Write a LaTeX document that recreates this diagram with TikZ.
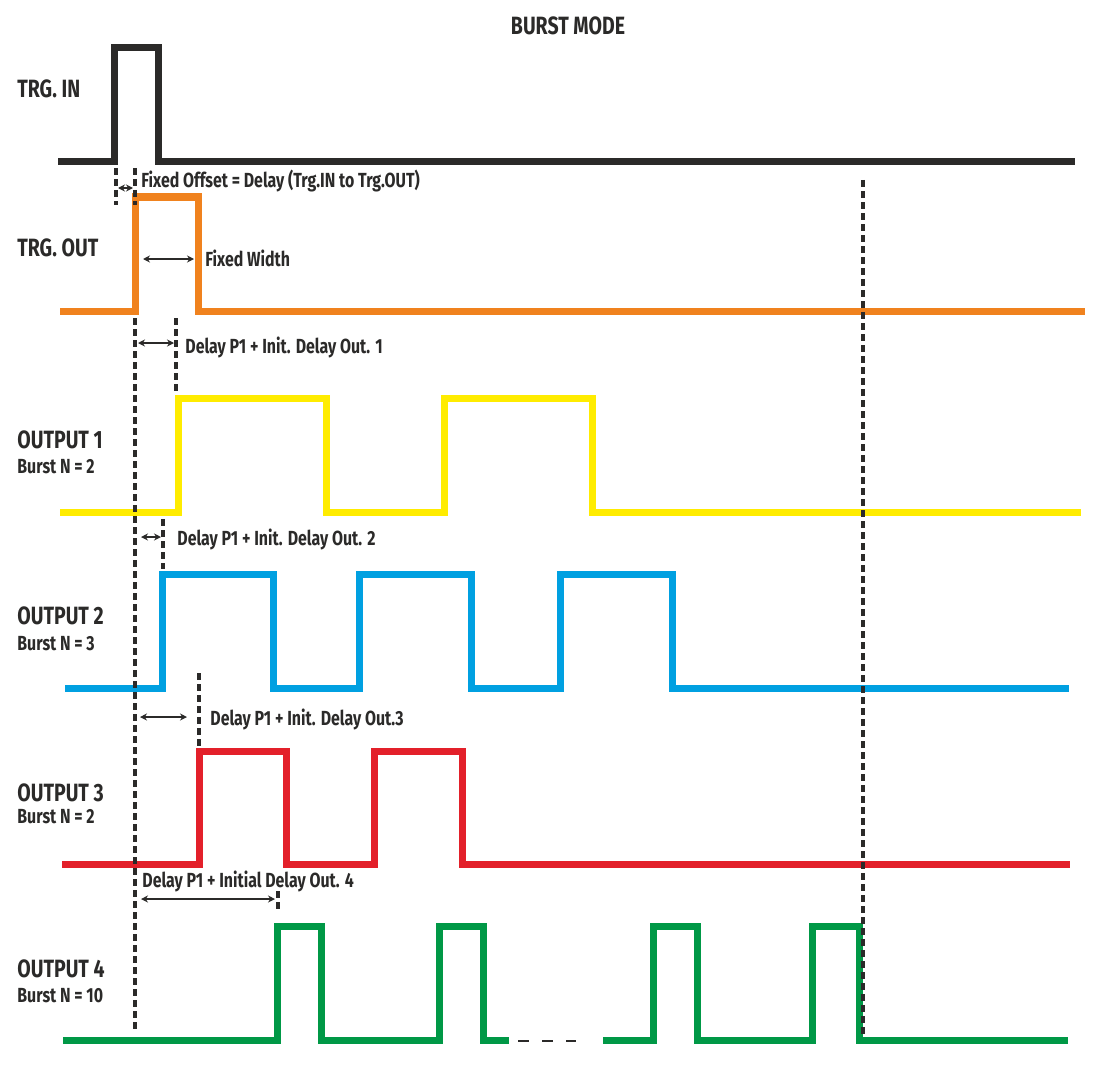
\documentclass[tikz,border=0pt]{standalone}
\usepackage{fontspec}
\setmainfont{Fira Sans}[FakeStretch=0.78]
\usetikzlibrary{arrows.meta, positioning, calc}
\definecolor{sigblack}{HTML}{2B2A29}
\definecolor{sigorange}{HTML}{F0821E}
\definecolor{sigyellow}{HTML}{FFEC00}
\definecolor{sigblue}{HTML}{00A0E1}
\definecolor{sigred}{HTML}{E3202A}
\definecolor{siggreen}{HTML}{009846}

\begin{document}
\begin{tikzpicture}[x=0.5pt, y=-0.5pt,
    signal/.style={line width=3.5pt, line join=miter},
    guide/.style={sigblack, line width=1.8pt, dash pattern=on 3.5pt off 2pt},
    span/.style={sigblack, line width=0.75pt, {Stealth[length=3.5pt,width=3.5pt]}-{Stealth[length=3.5pt,width=3.5pt]}},
    heading/.style={font=\bfseries\fontsize{12.5}{14}\selectfont, text=sigblack, inner sep=0pt, anchor=base west},
    note/.style={font=\bfseries\fontsize{10.2}{11}\selectfont, text=sigblack, inner sep=0pt, anchor=base west}]
\useasboundingbox (0,0) rectangle (1106,1064);

% Title
\node[heading, anchor=base] (title) at (568,35) {BURST MODE};

% Draw the waveforms
\draw[signal, sigblack] (58,162) \foreach \a/\b in {114/158} { -| (\a,48) -| (\b,162) } -- (1075,162);
\draw[signal, sigorange] (60,311) \foreach \a/\b in {135/198} { -| (\a,197) -| (\b,311) } -- (1085,311);
\draw[signal, sigyellow] (60,512) \foreach \a/\b in {178/326, 444/592} { -| (\a,398) -| (\b,512) } -- (1081,512);
\draw[signal, sigblue] (65,688) \foreach \a/\b in {162/273, 359/471, 560/672} { -| (\a,574) -| (\b,688) } -- (1069,688);
\draw[signal, sigred] (62,864) \foreach \a/\b in {199/286, 374/462} { -| (\a,751) -| (\b,864) } -- (1070,864);
\draw[signal, siggreen] (63,1040) \foreach \a/\b in {277/321, 439/483} { -| (\a,926) -| (\b,1040) } -- (509,1040);
\draw[signal, siggreen] (603,1040) \foreach \a/\b in {653/697, 812/859} { -| (\a,926) -| (\b,1040) } -- (1068,1040);
\draw[sigblack, line width=1.3pt, dash pattern=on 5.5pt off 6.5pt] (518,1041) -- (576,1041);

% Dashed markers
\foreach \x/\ya/\yb in {116/168/205, 135/168/205, 135/318/1030, 176/318/393,
                        163/519/569, 199/673/748, 278/891/910, 863/180/1037}
    \draw[guide] (\x,\ya) -- (\x,\yb);

% Delay arrows
\coordinate (offL) at (118,188);  \coordinate (offR) at (133,188);
\coordinate (widL) at (143,259);  \coordinate (widR) at (194,259);
\coordinate (d1L) at (138,343);   \coordinate (d1R) at (174,343);
\coordinate (d2L) at (141,537);   \coordinate (d2R) at (161,537);
\coordinate (d3L) at (140,717);   \coordinate (d3R) at (187,717);
\coordinate (d4L) at (141,899);   \coordinate (d4R) at (275,899);
\foreach \s in {off, wid, d1, d2, d3, d4}
    \draw[span] (\s L) -- (\s R);

% Delay labels
\node[note] (offtxt) at (141,188) {Fixed Offset = Delay (Trg.IN to Trg.OUT)};
\node[note] (widtxt) at (205,266) {Fixed Width};
\node[note] (d1txt) at (185,353) {Delay P1 + Init. Delay Out. 1};
\node[note] (d2txt) at (177,545) {Delay P1 + Init. Delay Out. 2};
\node[note] (d3txt) at (210,725) {Delay P1 + Init. Delay Out.3};
\node[note] (d4txt) at (142,887) {Delay P1 + Initial Delay Out. 4};

% Channel names
\node[heading] (trgin) at (17,98) {TRG. IN};
\node[heading] (trgout) at (17,256) {TRG. OUT};
\node[heading] (out1) at (17,448) {OUTPUT 1};
\node[note] (burst1) at (17,473) {Burst N = 2};
\node[heading] (out2) at (17,624) {OUTPUT 2};
\node[note] (burst2) at (17,650) {Burst N = 3};
\node[heading] (out3) at (17,801) {OUTPUT 3};
\node[note] (burst3) at (17,823) {Burst N = 2};
\node[heading] (out4) at (17,977) {OUTPUT 4};
\node[note] (burst4) at (17,1002) {Burst N = 10};
\end{tikzpicture}
\end{document}
